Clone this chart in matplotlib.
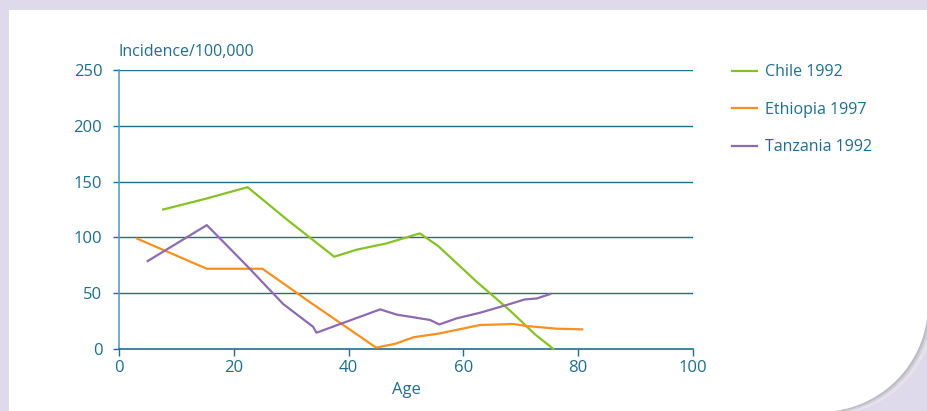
import numpy as np
import matplotlib.pyplot as plt
from matplotlib.patches import Polygon

# data
chile_age = [7.7, 15, 22.4, 29.5, 37.5, 41.4, 46.6, 52.4, 55.6, 62.3, 68, 72.5, 75.7]
chile_inc = [125, 134.5, 145, 115, 82.7, 89, 94.6, 103.6, 92.3, 60.3, 35, 13, 0]

ethiopia_age = [3.2, 15.3, 25.0, 32.7, 44.8, 48.2, 51.3, 55.9, 62.9, 68.7, 71, 76.2, 80.7]
ethiopia_inc = [98.8, 71.9, 71.9, 44, 1.2, 4.8, 10.5, 14, 21.5, 22.4, 20.6, 18.2, 17.6]

tanzania_age = [5.0, 15.3, 22.2, 28.6, 33.8, 34.4, 45.5, 48.4, 54.2, 55.8, 58.8, 62.9, 67.5, 70.7, 72.8, 75.1]
tanzania_inc = [78.8, 111, 75, 40.3, 20, 14.6, 35.5, 30.8, 26, 22, 27.4, 32.5, 39.4, 44.4, 45.3, 49.2]

series = ["Chile 1992", "Ethiopia 1997", "Tanzania 1992"]
colors = ["#84c225", "#f7901e", "#8c6bb1"]

yticks = [0, 50, 100, 150, 200, 250]
xticks = [0, 20, 40, 60, 80, 100]

teal = "#1b6f8e"
txt = "#1f6d8c"
plt.rcParams["font.family"] = ["Open Sans", "DejaVu Sans"]

W, H = 927, 411
fig = plt.figure(figsize=(W / 100, H / 100), dpi=100)
fig.patch.set_facecolor("#dedaeb")

# white page with rounded bottom-right corner
cx, cy, r = 820, 304, 108
ang = np.linspace(0, -np.pi / 2, 50)
arc = [(cx + r * np.cos(a), cy - r * np.sin(a)) for a in ang]
pts = [(9, 10), (W + 5, 10), (W + 5, cy)] + arc + [(cx, H + 5), (9, H + 5)]
for dx, col in [(7, "#e4e2ea"), (4, "#d2d0da"), (2, "#bdbbc6")]:
    sh = [(x + dx, y + dx * 0.5) if x > cx - 5 else (x, y) for x, y in pts]
    fig.patches.append(Polygon([(x / W, 1 - y / H) for x, y in sh], closed=True,
                               transform=fig.transFigure, facecolor=col, edgecolor="none", zorder=0))
fig.patches.append(Polygon([(x / W, 1 - y / H) for x, y in pts], closed=True,
                           transform=fig.transFigure, facecolor="white", edgecolor="none", zorder=1))

ax = fig.add_axes([119 / W, (H - 349) / H, 574 / W, 279 / H])
ax.set_facecolor("none")
ax.set_zorder(2)

for xs, ys, lab, c in zip([chile_age, ethiopia_age, tanzania_age],
                          [chile_inc, ethiopia_inc, tanzania_inc], series, colors):
    ax.plot(xs, ys, color=c, lw=1.6, label=lab, clip_on=False, zorder=3)

ax.set_xlim(0, 100)
ax.set_ylim(0, 250)
ax.set_xticks(xticks)
ax.set_yticks(yticks)
for yv in yticks[1:]:
    ax.axhline(yv, color=teal, lw=1.0, zorder=1)

for s in ["top", "right"]:
    ax.spines[s].set_visible(False)
ax.spines["left"].set_color("#5b9fb9")
ax.spines["bottom"].set_color(teal)
ax.spines["left"].set_linewidth(1.2)
ax.spines["bottom"].set_linewidth(1.2)
ax.tick_params(axis="y", colors=teal, labelcolor=txt, length=4, width=1.0, pad=8, labelsize=12)
ax.tick_params(axis="x", colors=teal, labelcolor=txt, length=5, width=1.0, pad=3, labelsize=12)

ax.text(0, 1.035, "Incidence/100,000", transform=ax.transAxes, color=txt, fontsize=11.5,
        ha="left", va="bottom")
ax.set_xlabel("Age", color=txt, fontsize=12, labelpad=4)

leg = fig.legend(loc="upper left", bbox_to_anchor=(718 / W, 1 - 50 / H), frameon=False,
                 fontsize=11.5, handlelength=1.55, labelspacing=1.35, handletextpad=0.5)
for t in leg.get_texts():
    t.set_color(txt)

fig.savefig("out.png", dpi=100, facecolor=fig.get_facecolor())
